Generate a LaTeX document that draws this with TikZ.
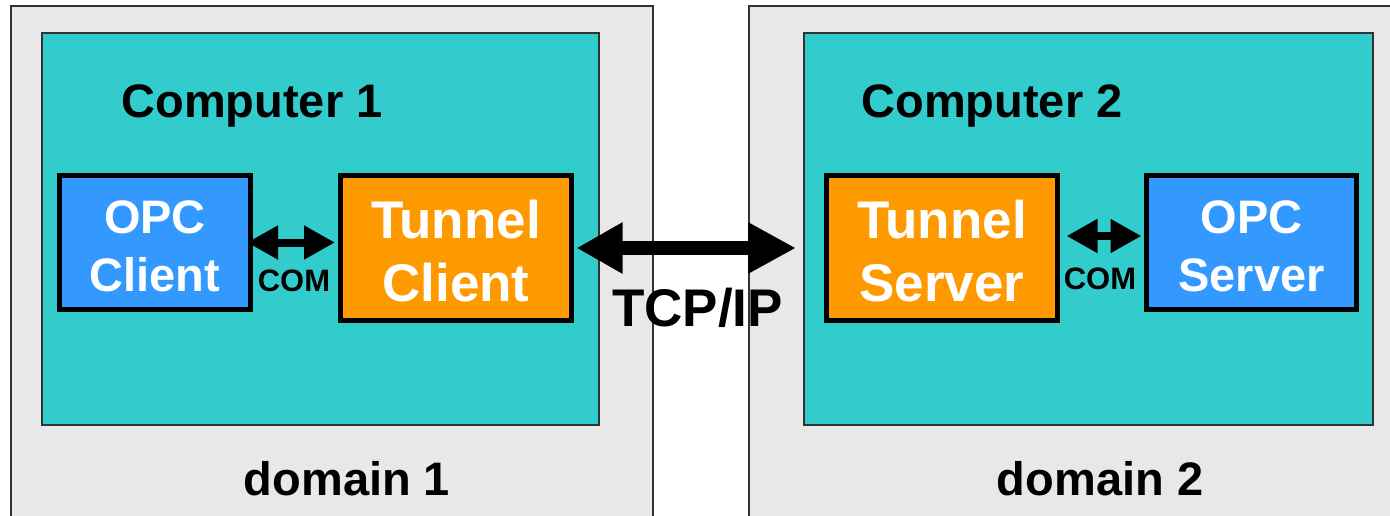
\documentclass[tikz,border=0pt]{standalone}
\usepackage{fontspec}
\setmainfont{Liberation Sans}
\usetikzlibrary{arrows.meta}
\definecolor{domgray}{HTML}{E8E8E8}
\definecolor{teal}{HTML}{33CCCC}
\definecolor{boxblue}{HTML}{3399FF}
\definecolor{boxorange}{HTML}{FF9900}
\definecolor{edgegray}{HTML}{333333}
\tikzset{
  domainbox/.style={fill=domgray, draw=edgegray, line width=1.5pt},
  compbox/.style={fill=teal, draw=edgegray, line width=1.5pt},
  appbox/.style={draw=black, line width=5pt, text=white, align=center,
     inner sep=0pt, font=\bfseries},
  opcbox/.style={appbox, fill=boxblue, minimum width=#1, minimum height=134pt,
     text height=98pt, font=\bfseries\fontsize{47}{58}\selectfont},
  tunbox/.style={appbox, fill=boxorange, minimum width=231pt, minimum height=145pt,
     text height=108pt, font=\bfseries\fontsize{53}{63}\selectfont},
  biglabel/.style={anchor=base, font=\bfseries\fontsize{47}{56}\selectfont, inner sep=0pt},
  comlabel/.style={anchor=base, font=\bfseries\fontsize{31}{36}\selectfont, inner sep=0pt},
  tcplabel/.style={anchor=base, font=\bfseries\fontsize{53}{60}\selectfont, inner sep=0pt},
  comarrow/.style={line width=8pt, {Triangle[length=31pt,width=32pt]}-{Triangle[length=31pt,width=32pt]}},
  tcparrow/.style={line width=14pt, {Triangle[length=46pt,width=48pt]}-{Triangle[length=48pt,width=48pt]}}
}
\begin{document}
\begin{tikzpicture}[x=1pt,y=-1pt]
\useasboundingbox (0,0) rectangle (1390,515);
\clip (0,0) rectangle (1390,515);
\fill[white] (0,0) rectangle (1390,515);
% domains
\draw[domainbox] (11,6) rectangle (653,540);
\draw[domainbox] (749,6) rectangle (1420,540);
% computers
\draw[compbox] (42,33) rectangle (599,425);
\draw[compbox] (804,33) rectangle (1373,425);
% labels
\node[biglabel] (comp1) at (252,117) {Computer 1};
\node[biglabel] (comp2) at (992,117) {Computer 2};
\node[biglabel] (dom1) at (347,495) {domain 1};
\node[biglabel] (dom2) at (1100,495) {domain 2};
% application boxes
\node[opcbox=191pt] (oc) at (155,242.5) {OPC\\Client};
\node[tunbox] (tc) at (456,248) {Tunnel\\Client};
\node[tunbox] (ts) at (942,248) {Tunnel\\Server};
\node[opcbox=210pt] (os) at (1251.5,242.5) {OPC\\Server};
% COM arrows
\coordinate (cl1) at ([xshift=-6pt]oc.east);
\coordinate (cr1) at ([xshift=-3pt]tc.west);
\draw[comarrow] (cl1) -- (cl1 -| cr1);
\coordinate (cl2) at ([xshift=6.5pt,yshift=12pt]ts.east);
\coordinate (cr2) at ([xshift=-2.5pt]os.west);
\draw[comarrow] (cl2) -- (cl2 -| cr2);
\node[comlabel] (com1) at (294,291) {COM};
\node[comlabel] (com2) at (1100,289) {COM};
% TCP/IP arrow
\coordinate (tcl) at ([xshift=2.5pt]tc.east);
\coordinate (tcpR) at (796,248);
\draw[tcparrow] (tcl) -- (tcpR);
\node[tcplabel] (tcp) at (697.5,326) {TCP/IP};
\end{tikzpicture}
\end{document}
